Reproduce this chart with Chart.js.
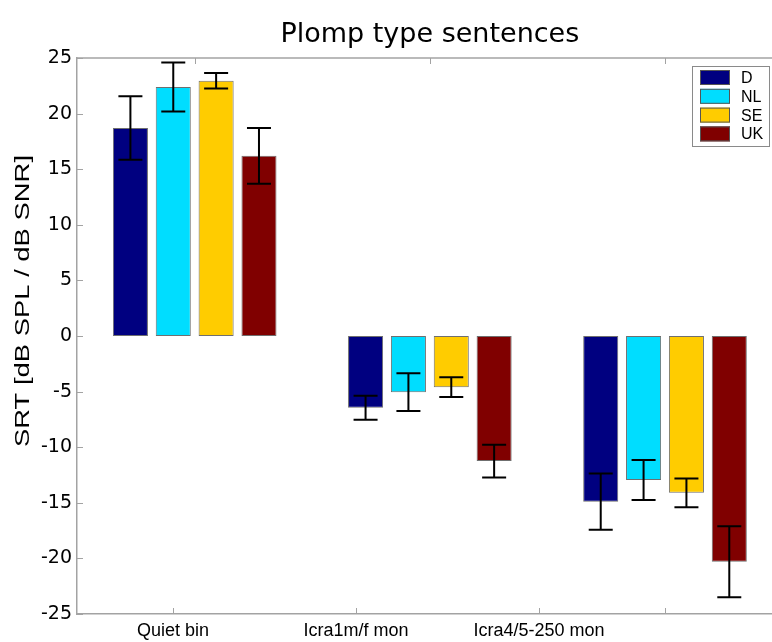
<!DOCTYPE html>
<html>
<head>
<meta charset="utf-8">
<script src="https://cdn.jsdelivr.net/npm/chart.js@4.4.0/dist/chart.umd.min.js"></script>
<style>
html,body{margin:0;padding:0;background:#fff;overflow:hidden}
#wrap{width:772px;height:642px;position:relative}
</style>
</head>
<body>
<div id="wrap"><canvas id="c" width="772" height="642"></canvas></div>
<script>
// ---- data ----
const categories = ['Quiet bin', 'Icra1m/f mon', 'Icra4/5-250 mon'];
const seriesNames = ['D', 'NL', 'SE', 'UK'];
const valuesD  = [18.7, -6.45, -14.9];
const valuesNL = [22.4, -5.05, -12.95];
const valuesSE = [22.95, -4.6, -14.1];
const valuesUK = [16.2, -11.25, -20.3];
const errD  = [2.85, 1.08, 2.53];
const errNL = [2.2, 1.7, 1.8];
const errSE = [0.7, 0.88, 1.29];
const errUK = [2.5, 1.47, 3.2];
const yTickValues = [-25, -20, -15, -10, -5, 0, 5, 10, 15, 20, 25];
const chartTitle = 'Plomp type sentences';
const yAxisTitle = 'SRT [dB SPL / dB SNR]';

// ---- styles ----
const seriesColors = ['#000080', '#00DDFF', '#FFCC00', '#800000'];
const axisGray = '#a3a3a3';

const allValues = [valuesD, valuesNL, valuesSE, valuesUK];
const allErrors = [errD, errNL, errSE, errUK];

const datasets = seriesNames.map((name, k) => ({
  label: name,
  data: allValues[k].map((v, i) => ({ x: i + 1, y: v })),
  errors: allErrors[k],
  backgroundColor: seriesColors[k],
  borderColor: '#6f6f6f',
  borderWidth: 1,
  borderSkipped: false,
  categoryPercentage: 0.729,
  barPercentage: 0.818,
  xAxisID: 'xb',
  yAxisID: 'y'
}));

const extras = {
  id: 'extras',
  afterLayout(chart) {
    const xb = chart.scales.xb;
    const c = xb.getPixelForValue(2);
    if (chart.titleBlock) {
      chart.titleBlock.left = c - 400;
      chart.titleBlock.right = c + 400;
    }
  },
  afterDatasetsDraw(chart) {
    const ctx = chart.ctx;
    const ys = chart.scales.y;
    ctx.save();
    ctx.strokeStyle = '#000';
    ctx.lineWidth = 2;
    chart.data.datasets.forEach((ds, k) => {
      const meta = chart.getDatasetMeta(k);
      meta.data.forEach((bar, i) => {
        const v = ds.data[i].y, e = ds.errors[i];
        const x = bar.x;
        const y1 = ys.getPixelForValue(v + e), y2 = ys.getPixelForValue(v - e);
        ctx.beginPath();
        ctx.moveTo(x, y1); ctx.lineTo(x, y2);
        ctx.moveTo(x - 12, y1); ctx.lineTo(x + 12, y1);
        ctx.moveTo(x - 12, y2); ctx.lineTo(x + 12, y2);
        ctx.stroke();
      });
    });
    ctx.restore();
  },
  afterDraw(chart) {
    const ctx = chart.ctx;
    const a = chart.chartArea;
    const ys = chart.scales.y, xs = chart.scales.x, xb = chart.scales.xb;
    ctx.save();
    // top border
    ctx.strokeStyle = axisGray;
    ctx.lineWidth = 1.5;
    ctx.beginPath();
    ctx.moveTo(a.left, a.top); ctx.lineTo(a.right, a.top);
    ctx.stroke();
    // inward ticks
    ctx.lineWidth = 1;
    ctx.beginPath();
    ys.ticks.forEach(t => {
      const py = Math.round(ys.getPixelForValue(t.value)) + 0.5;
      ctx.moveTo(a.left, py); ctx.lineTo(a.left + 6, py);
    });
    xs.ticks.forEach(t => {
      const px = Math.round(xs.getPixelForValue(t.value)) + 0.5;
      ctx.moveTo(px, a.bottom); ctx.lineTo(px, a.bottom - 6);
    });
    [1, 2, 3].forEach(v => {
      const px = Math.round(xb.getPixelForValue(v)) + 0.5;
      ctx.moveTo(px, a.top); ctx.lineTo(px, a.top + 6);
    });
    const px3 = Math.round(xb.getPixelForValue(3)) + 0.5;
    ctx.moveTo(px3, a.bottom); ctx.lineTo(px3, a.bottom - 6);
    ctx.stroke();

    // y axis title
    ctx.save();
    ctx.translate(23, 301);
    ctx.rotate(-Math.PI / 2);
    ctx.font = '20px "Liberation Sans", Arial, sans-serif';
    ctx.fillStyle = '#000';
    ctx.textAlign = 'center';
    ctx.textBaseline = 'middle';
    const w = ctx.measureText(yAxisTitle).width;
    ctx.scale(292 / w, 1);
    ctx.fillText(yAxisTitle, 0, 0);
    ctx.restore();

    // legend
    const lx = 692.5, ly = 66.5, lw = 77, lh = 80;
    ctx.fillStyle = '#fff';
    ctx.fillRect(lx, ly, lw, lh);
    ctx.strokeStyle = '#8a8a8a';
    ctx.lineWidth = 1;
    ctx.strokeRect(lx, ly, lw, lh);
    ctx.font = '16px "Liberation Sans", Arial, sans-serif';
    ctx.textAlign = 'left';
    ctx.textBaseline = 'middle';
    chart.data.datasets.forEach((ds, k) => {
      const cy = 77.5 + k * 18.8;
      ctx.fillStyle = ds.backgroundColor;
      ctx.fillRect(700, cy - 7.5, 30, 15);
      ctx.strokeStyle = '#555';
      ctx.strokeRect(700.5, cy - 7, 29, 14);
      ctx.fillStyle = '#000';
      ctx.fillText(ds.label, 741, cy + 1);
    });
    ctx.restore();
  }
};

new Chart(document.getElementById('c'), {
  type: 'bar',
  data: { datasets },
  options: {
    responsive: false,
    animation: false,
    layout: { padding: { left: 0, right: 0, top: 0, bottom: 0 } },
    plugins: {
      legend: { display: false },
      tooltip: { enabled: false },
      title: {
        display: true,
        text: chartTitle,
        color: '#000',
        font: { family: '"DejaVu Sans", sans-serif', size: 27, weight: 'normal', lineHeight: 1.2 },
        padding: { top: 18.8, bottom: 6.8 }
      }
    },
    scales: {
      xb: {
        type: 'linear',
        display: false,
        offset: false,
        min: 0.4995,
        max: 3.455,
        afterBuildTicks: s => { s.ticks = [1, 2, 3].map(v => ({ value: v })); }
      },
      x: {
        type: 'linear',
        position: 'bottom',
        offset: false,
        min: 0.4754,
        max: 4.273,
        afterBuildTicks: s => { s.ticks = categories.map((c, i) => ({ value: i + 1 })); },
        afterFit: s => { s.height = 28; },
        grid: { display: false, drawTicks: false, offset: false },
        border: { display: true, color: axisGray, width: 1.5 },
        ticks: {
          autoSkip: false, maxRotation: 0, padding: 6, color: '#000',
          font: { family: '"Liberation Sans", Arial, sans-serif', size: 18 },
          callback: v => categories[Math.round(v) - 1]
        }
      },
      y: {
        type: 'linear',
        position: 'left',
        min: -25,
        max: 25,
        afterBuildTicks: s => { s.ticks = yTickValues.map(v => ({ value: v })); },
        afterFit: s => { s.width = 77; },
        grid: { display: false, drawTicks: false },
        border: { display: true, color: axisGray, width: 1.5 },
        ticks: {
          padding: 5, color: '#000',
          font: { family: '"DejaVu Sans", sans-serif', size: 19 }
        }
      }
    }
  },
  plugins: [extras]
});
</script>
</body>
</html>
